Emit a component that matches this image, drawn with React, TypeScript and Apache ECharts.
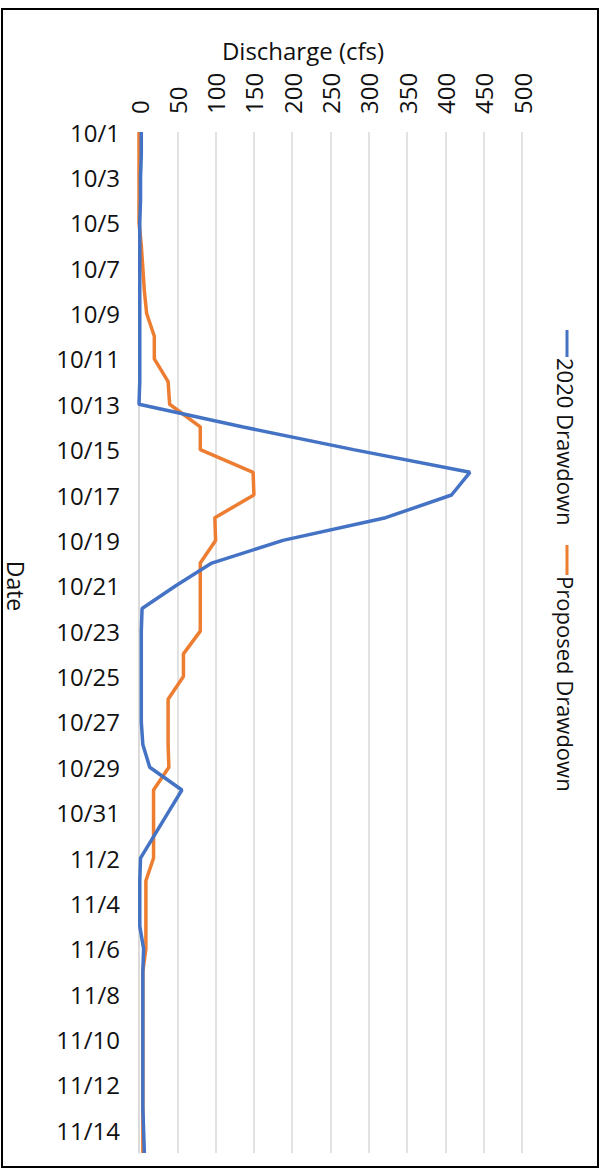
import React, { useEffect, useRef } from "react";
import * as echarts from "echarts";

const dates = [
  "10/1", "10/2", "10/3", "10/4", "10/5", "10/6", "10/7", "10/8", "10/9", "10/10",
  "10/11", "10/12", "10/13", "10/14", "10/15", "10/16", "10/17", "10/18", "10/19", "10/20",
  "10/21", "10/22", "10/23", "10/24", "10/25", "10/26", "10/27", "10/28", "10/29", "10/30",
  "10/31", "11/1", "11/2", "11/3", "11/4", "11/5", "11/6", "11/7", "11/8", "11/9",
  "11/10", "11/11", "11/12", "11/13", "11/14", "11/15",
];

const drawdown2020 = [
  3, 3, 2, 2, 1, 1, 1, 1, 1, 1,
  1, 1, 0, 136, 280, 432, 408, 322, 188, 95,
  48, 4, 3, 3, 3, 3, 3, 5, 14, 56,
  38, 20, 2, 1, 1, 1, 6, 5, 5, 5,
  5, 5, 5, 5, 6, 7,
];

const proposedDrawdown = [
  0, 0, 0, 0, 0, 3, 5, 7, 10, 20,
  20, 38, 40, 80, 80, 149, 150, 99, 100, 80,
  80, 80, 80, 58, 58, 38, 38, 38, 39, 19,
  19, 19, 19, 9, 9, 9, 9, 5, 5, 5,
  5, 5, 5, 5, 5, 5,
];

const seriesNames = ["2020 Drawdown", "Proposed Drawdown"];
const seriesColors = ["#4472C4", "#ED7D31"];

const FONT = "'Open Sans', 'Noto Sans', sans-serif";
const TEXT_COLOR = "#111111";

export default function App() {
  const ref = useRef<HTMLDivElement>(null);

  useEffect(() => {
    if (!ref.current) return;
    const chart = echarts.init(ref.current, null, { renderer: "svg" });
    chart.setOption({
      animation: false,
      backgroundColor: "#ffffff",
      textStyle: { fontFamily: FONT },
      grid: { left: 139, right: 81, top: 132, bottom: 17, containLabel: false },
      xAxis: {
        type: "value",
        position: "top",
        min: 0,
        max: 500,
        interval: 50,
        axisLine: { show: false },
        axisTick: { show: false },
        axisLabel: {
          rotate: -90,
          margin: 18,
          fontSize: 24,
          color: TEXT_COLOR,
          fontFamily: FONT,
        },
        splitLine: { show: true, lineStyle: { color: "#d9d9d9", width: 1.5 } },
      },
      yAxis: {
        type: "category",
        inverse: true,
        boundaryGap: false,
        data: dates,
        axisLine: { show: true, lineStyle: { color: "#d9d9d9", width: 1.5 } },
        axisTick: { show: false },
        axisLabel: {
          interval: 1,
          margin: 19,
          fontSize: 24,
          color: TEXT_COLOR,
          fontFamily: FONT,
        },
        splitLine: { show: false },
      },
      series: [
        {
          name: seriesNames[0],
          type: "line",
          data: drawdown2020,
          showSymbol: false,
          symbol: "none",
          lineStyle: { color: seriesColors[0], width: 3.5 },
          itemStyle: { color: seriesColors[0] },
          z: 3,
        },
        {
          name: seriesNames[1],
          type: "line",
          data: proposedDrawdown,
          showSymbol: false,
          symbol: "none",
          lineStyle: { color: seriesColors[1], width: 3.5 },
          itemStyle: { color: seriesColors[1] },
          z: 2,
        },
      ],
      graphic: [
        {
          type: "rect",
          shape: { x: 2, y: 9, width: 596, height: 1158 },
          style: { fill: "none", stroke: "#000000", lineWidth: 2 },
          silent: true,
        },
        {
          type: "text",
          x: 303,
          y: 50,
          style: {
            text: "Discharge (cfs)",
            fontSize: 24,
            fontFamily: FONT,
            fill: TEXT_COLOR,
            align: "center",
            verticalAlign: "middle",
          },
        },
        {
          type: "text",
          x: 16,
          y: 586,
          rotation: -Math.PI / 2,
          style: {
            text: "Date",
            fontSize: 23,
            fontFamily: FONT,
            fill: TEXT_COLOR,
            align: "center",
            verticalAlign: "middle",
          },
        },
        {
          type: "line",
          shape: { x1: 567, y1: 330, x2: 567, y2: 357 },
          style: { stroke: seriesColors[0], lineWidth: 3 },
        },
        {
          type: "text",
          x: 566,
          y: 358,
          rotation: -Math.PI / 2,
          style: {
            text: seriesNames[0],
            fontSize: 22,
            fontFamily: FONT,
            fill: TEXT_COLOR,
            align: "left",
            verticalAlign: "middle",
          },
        },
        {
          type: "line",
          shape: { x1: 567, y1: 545, x2: 567, y2: 575 },
          style: { stroke: seriesColors[1], lineWidth: 3 },
        },
        {
          type: "text",
          x: 566,
          y: 576,
          rotation: -Math.PI / 2,
          style: {
            text: seriesNames[1],
            fontSize: 22,
            fontFamily: FONT,
            fill: TEXT_COLOR,
            align: "left",
            verticalAlign: "middle",
          },
        },
      ],
    });
    return () => chart.dispose();
  }, []);

  return (
    <div
      ref={ref}
      style={{ position: "absolute", left: 0, top: 0, width: 603, height: 1170 }}
    />
  );
}
